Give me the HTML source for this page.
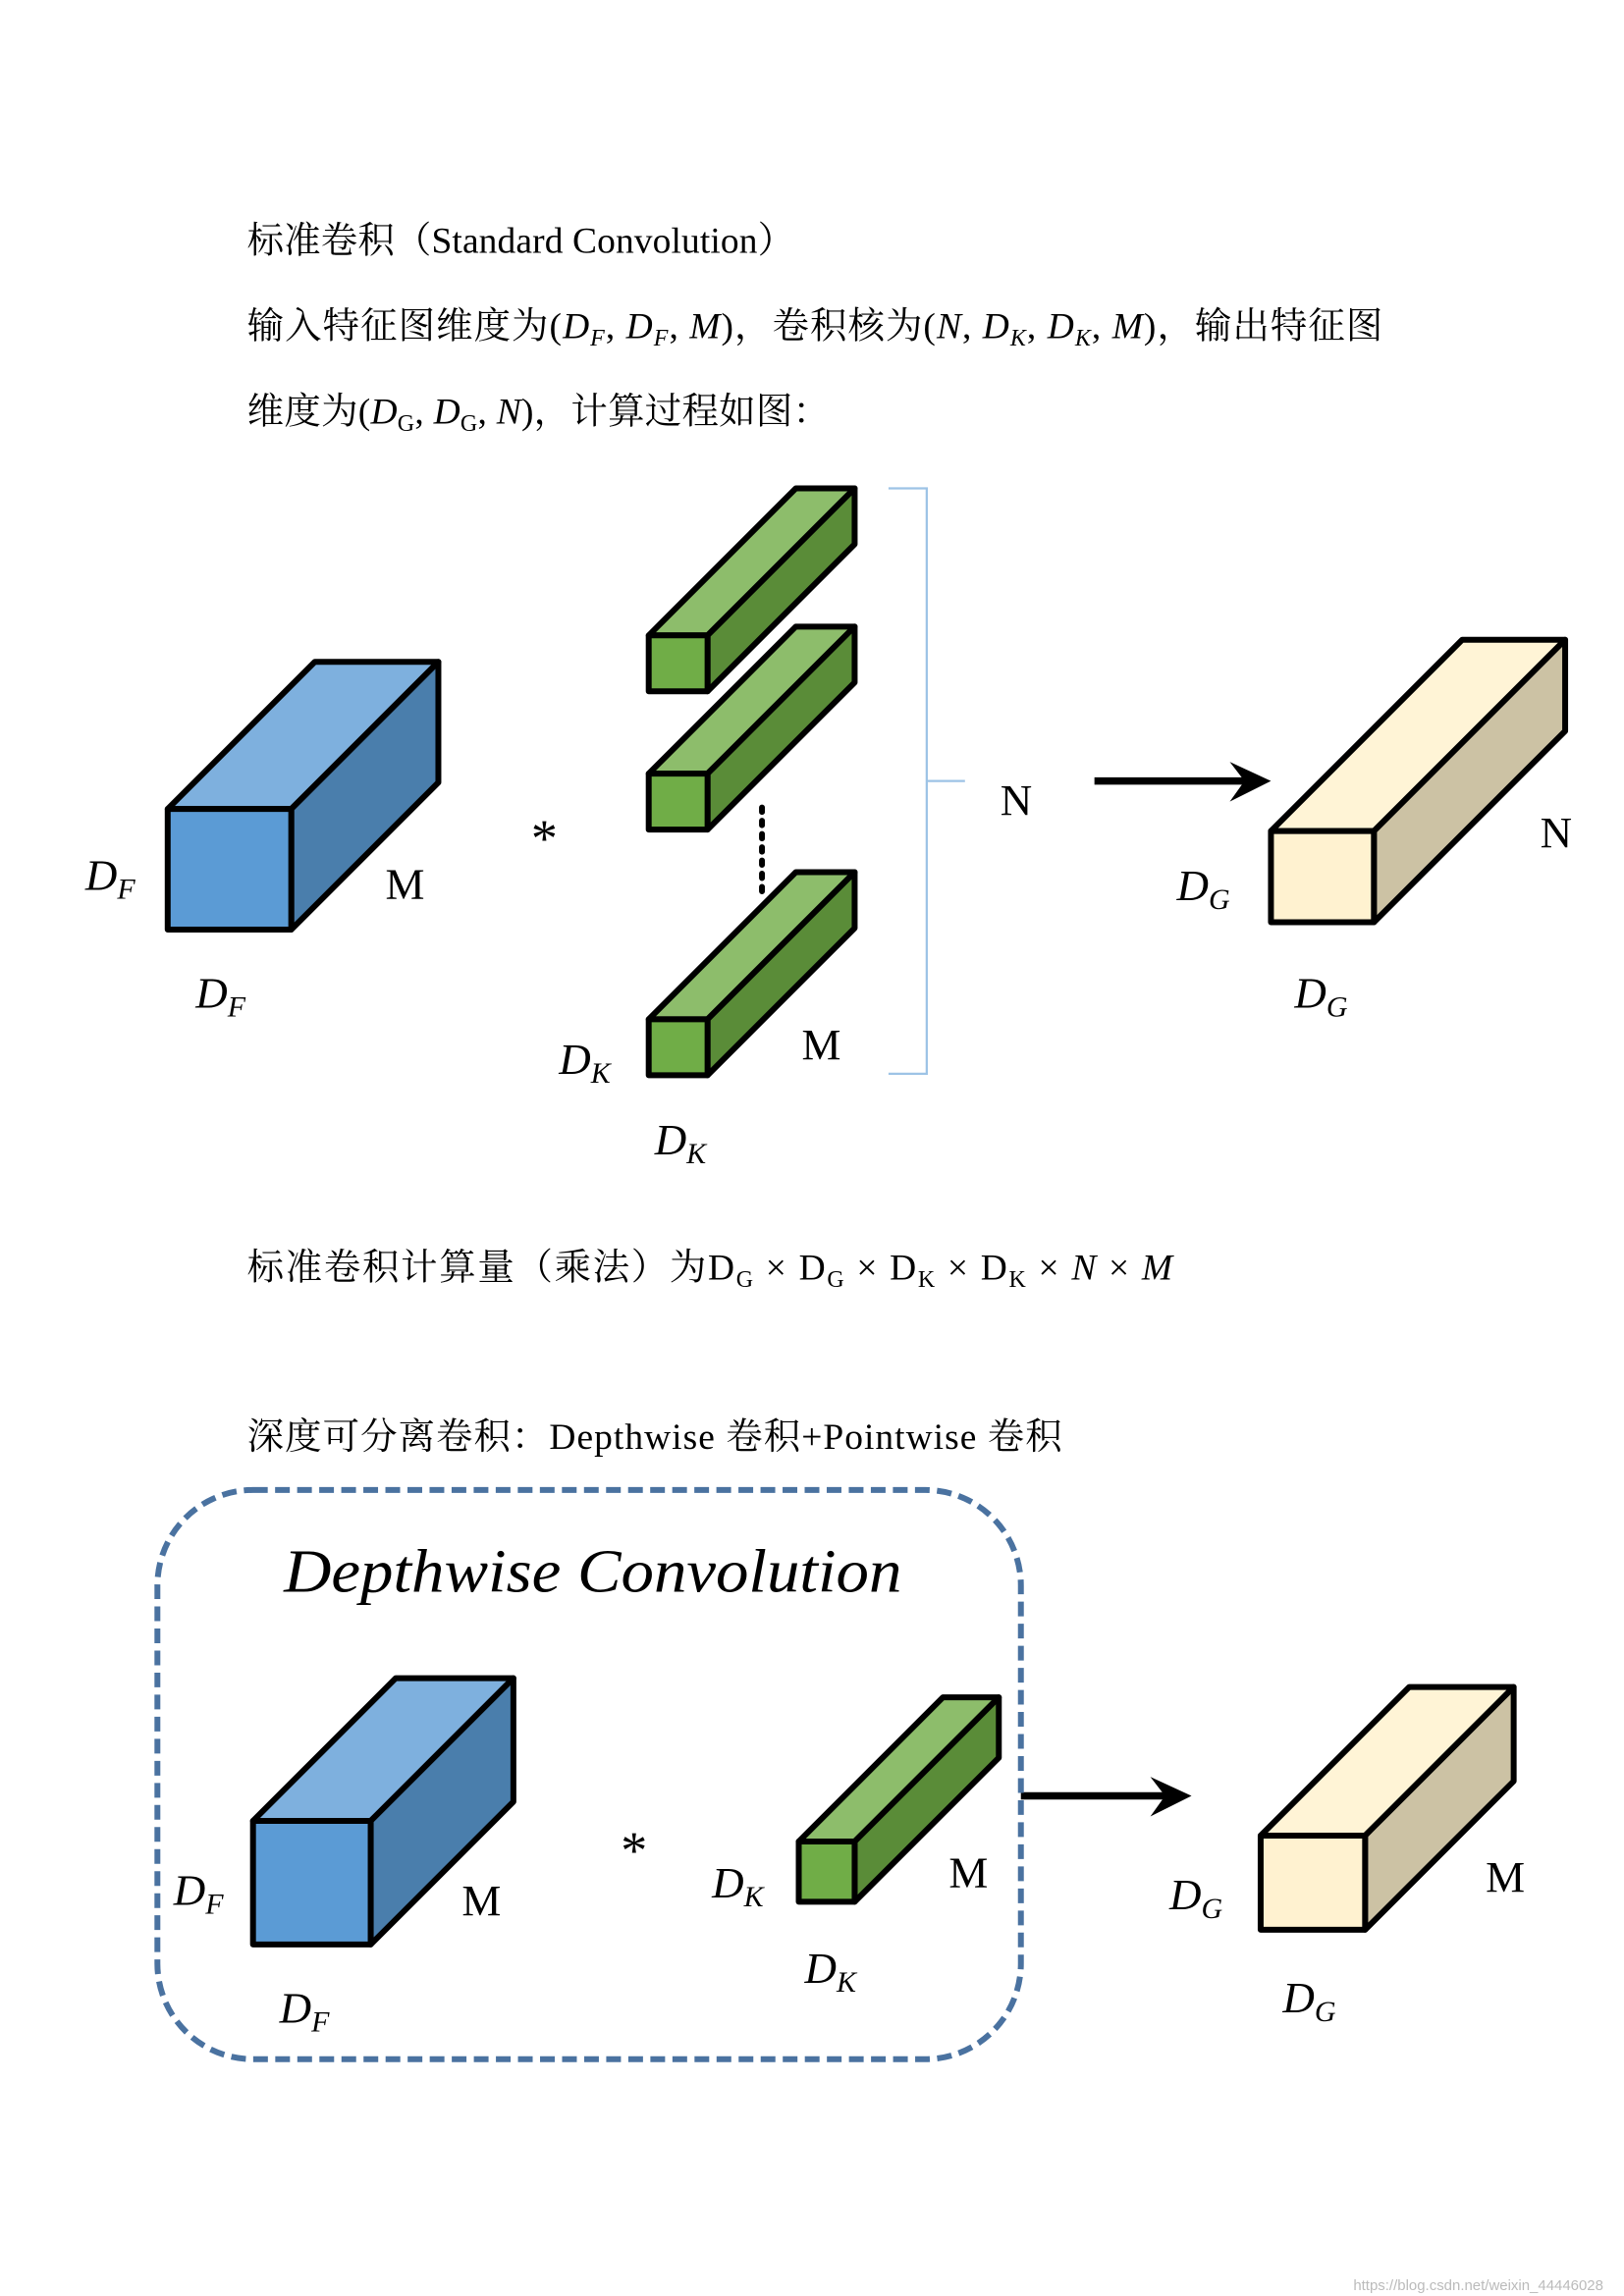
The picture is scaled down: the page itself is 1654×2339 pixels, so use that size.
<!DOCTYPE html>
<html><head><meta charset="utf-8"><style>
html,body{margin:0;padding:0;background:#fff;}
svg{display:block;}
text{font-family:"Liberation Serif","Noto Serif CJK SC","Noto Sans CJK SC",serif;fill:#000;}
.m{font-style:italic;}
</style></head><body>
<svg width="1654" height="2339" viewBox="0 0 1104 1561" preserveAspectRatio="none" xmlns="http://www.w3.org/2000/svg">
<g font-size="25">
<text x="168" y="172" textLength="372" lengthAdjust="spacing">标准卷积（Standard Convolution）</text>
<text x="168" y="230" textLength="772" lengthAdjust="spacing">输入特征图维度为(<tspan class="m">D</tspan><tspan class="m" font-size="16" dy="5">F</tspan><tspan dy="-5">, </tspan><tspan class="m">D</tspan><tspan class="m" font-size="16" dy="5">F</tspan><tspan dy="-5">, </tspan><tspan class="m">M</tspan>)，卷积核为(<tspan class="m">N</tspan>, <tspan class="m">D</tspan><tspan class="m" font-size="16" dy="5">K</tspan><tspan dy="-5">, </tspan><tspan class="m">D</tspan><tspan class="m" font-size="16" dy="5">K</tspan><tspan dy="-5">, </tspan><tspan class="m">M</tspan>)，输出特征图</text>
<text x="168" y="288" textLength="396" lengthAdjust="spacing">维度为(<tspan class="m">D</tspan><tspan font-size="16" dy="5">G</tspan><tspan dy="-5">, </tspan><tspan class="m">D</tspan><tspan font-size="16" dy="5">G</tspan><tspan dy="-5">, </tspan><tspan class="m">N</tspan>)，计算过程如图：</text>
<text x="168" y="870" textLength="629" lengthAdjust="spacing">标准卷积计算量（乘法）为D<tspan font-size="16" dy="5">G</tspan><tspan dy="-5"> × D</tspan><tspan font-size="16" dy="5">G</tspan><tspan dy="-5"> × D</tspan><tspan font-size="16" dy="5">K</tspan><tspan dy="-5"> × D</tspan><tspan font-size="16" dy="5">K</tspan><tspan dy="-5"> × </tspan><tspan class="m">N</tspan> × <tspan class="m">M</tspan></text>
<text x="168" y="985" textLength="554" lengthAdjust="spacing">深度可分离卷积：Depthwise 卷积+Pointwise 卷积</text>
</g>
<g stroke="#000" stroke-width="4" stroke-linejoin="round">
<polygon points="114,550 214,450 298,450 198,550" fill="#7eb0de"/>
<polygon points="198,550 298,450 298,532 198,632" fill="#4a7eac"/>
<rect x="114" y="550" width="84" height="82" fill="#5b9bd5"/>
<polygon points="441,432 541,332 581,332 481,432" fill="#8dbd6b"/>
<polygon points="481,432 581,332 581,370 481,470" fill="#5a8c38"/>
<rect x="441" y="432" width="40" height="38" fill="#70ad47"/>
<polygon points="441,526 541,426 581,426 481,526" fill="#8dbd6b"/>
<polygon points="481,526 581,426 581,464 481,564" fill="#5a8c38"/>
<rect x="441" y="526" width="40" height="38" fill="#70ad47"/>
<polygon points="441,693 541,593 581,593 481,693" fill="#8dbd6b"/>
<polygon points="481,693 581,593 581,631 481,731" fill="#5a8c38"/>
<rect x="441" y="693" width="40" height="38" fill="#70ad47"/>
<polygon points="864,565 994,435 1064,435 934,565" fill="#fff4d6"/>
<polygon points="934,565 1064,435 1064,497 934,627" fill="#ccc2a4"/>
<rect x="864" y="565" width="70" height="62" fill="#fff2d0"/>
<polygon points="172,1238 269,1141 349,1141 252,1238" fill="#7eb0de"/>
<polygon points="252,1238 349,1141 349,1225 252,1322" fill="#4a7eac"/>
<rect x="172" y="1238" width="80" height="84" fill="#5b9bd5"/>
<polygon points="543,1252 641,1154 679,1154 581,1252" fill="#8dbd6b"/>
<polygon points="581,1252 679,1154 679,1195 581,1293" fill="#5a8c38"/>
<rect x="543" y="1252" width="38" height="41" fill="#70ad47"/>
<polygon points="857,1248 958,1147 1029,1147 928,1248" fill="#fff4d6"/>
<polygon points="928,1248 1029,1147 1029,1211 928,1312" fill="#ccc2a4"/>
<rect x="857" y="1248" width="71" height="64" fill="#fff2d0"/>
</g>
<line x1="518" y1="549" x2="518" y2="606" stroke="#000" stroke-width="4" stroke-dasharray="3,6" stroke-linecap="round"/>
<polyline points="604,332 630,332 630,730 604,730" fill="none" stroke="#9dc3e6" stroke-width="1.5"/>
<line x1="630" y1="531" x2="656" y2="531" stroke="#9dc3e6" stroke-width="1.5"/>
<line x1="744" y1="531" x2="850" y2="531" stroke="#000" stroke-width="5"/>
<polygon points="836,518 864,531 836,545 846,531" fill="#000"/>
<line x1="694" y1="1221" x2="796" y2="1221" stroke="#000" stroke-width="5"/>
<polygon points="782,1208 810,1221 782,1235 792,1221" fill="#000"/>
<rect x="107" y="1013" width="587" height="387" rx="65" ry="65" fill="none" stroke="#4a72a0" stroke-width="4" stroke-dasharray="10,5"/>
<text x="193" y="1082" font-size="42" class="m" textLength="420" lengthAdjust="spacingAndGlyphs">Depthwise Convolution</text>
<g font-size="30">
<text x="58" y="605" class="m">D<tspan font-size="20" dy="6">F</tspan></text>
<text x="262" y="611">M</text>
<text x="133" y="685" class="m">D<tspan font-size="20" dy="6">F</tspan></text>
<text x="361" y="582" font-size="36">*</text>
<text x="380" y="730" class="m">D<tspan font-size="20" dy="6">K</tspan></text>
<text x="545" y="720">M</text>
<text x="445" y="785" class="m">D<tspan font-size="20" dy="6">K</tspan></text>
<text x="680" y="554">N</text>
<text x="800" y="612" class="m">D<tspan font-size="20" dy="6">G</tspan></text>
<text x="1047" y="576">N</text>
<text x="880" y="685" class="m">D<tspan font-size="20" dy="6">G</tspan></text>
<text x="118" y="1295" class="m">D<tspan font-size="20" dy="6">F</tspan></text>
<text x="314" y="1302">M</text>
<text x="190" y="1375" class="m">D<tspan font-size="20" dy="6">F</tspan></text>
<text x="422" y="1270" font-size="36">*</text>
<text x="484" y="1290" class="m">D<tspan font-size="20" dy="6">K</tspan></text>
<text x="645" y="1283">M</text>
<text x="547" y="1348" class="m">D<tspan font-size="20" dy="6">K</tspan></text>
<text x="795" y="1298" class="m">D<tspan font-size="20" dy="6">G</tspan></text>
<text x="1010" y="1286">M</text>
<text x="872" y="1368" class="m">D<tspan font-size="20" dy="6">G</tspan></text>
</g>
<text x="920" y="1557" font-size="10" style="font-family:'Liberation Sans',sans-serif;fill:#bbb">https://blog.csdn.net/weixin_44446028</text>
</svg>
</body></html>
